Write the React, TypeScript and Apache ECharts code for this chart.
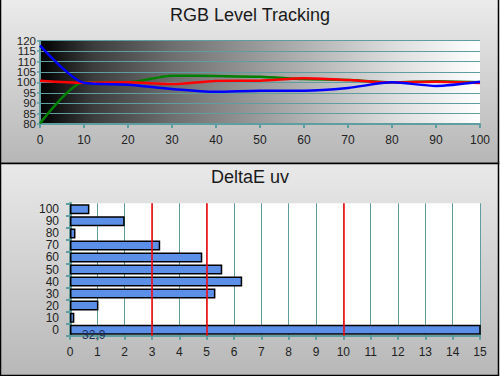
import React, { useEffect, useRef } from "react";
import * as echarts from "echarts";

const levels = [0, 10, 20, 30, 40, 50, 60, 70, 80, 90, 100];
const redValues = [100.8, 99.8, 100, 99.2, 100.7, 100.8, 102, 101.1, 100, 100.3, 99.7];
const greenValues = [80.3, 100, 100, 103.2, 103, 102.7, 101.6, 101.1, 100, 100.5, 100];
const blueValues = [117.6, 99.8, 98.9, 96.8, 95.5, 96, 96, 97.3, 100, 98.3, 100.3];
const levelTickLabels = ["80", "85", "90", "95", "100", "105", "110", "115", "120"];

const deltaCategories = ["0", "10", "20", "30", "40", "50", "60", "70", "80", "90", "100"];
const deltaValues = [32.9, 0.16, 1.04, 5.32, 6.3, 5.57, 4.84, 3.3, 0.2, 2.0, 0.71];
const thresholds = [3, 5, 10];

const TEAL = "#5f9ea0";
const FONT = "Liberation Sans";

export default function App() {
  const ref = useRef<HTMLDivElement>(null);
  useEffect(() => {
    document.body.style.margin = "0";
    const chart = echarts.init(ref.current!, null, { renderer: "svg" });
    const vGrad = (a: string, b: string) =>
      new echarts.graphic.LinearGradient(0, 0, 0, 1, [
        { offset: 0, color: a },
        { offset: 1, color: b },
      ]);
    chart.setOption({
      animation: false,
      textStyle: { fontFamily: FONT },
      graphic: [
        {
          type: "rect",
          z: -10,
          shape: { x: 0.5, y: -1, width: 498, height: 164.5 },
          style: { fill: vGrad("#ececec", "#b6b6b6"), stroke: "#000", lineWidth: 1.5 },
        },
        {
          type: "rect",
          z: -10,
          shape: { x: 0.5, y: 163.5, width: 498, height: 212 },
          style: { fill: vGrad("#e9e9e9", "#b8b8b8"), stroke: "#000", lineWidth: 1.5 },
        },
        {
          type: "rect",
          z: -5,
          shape: { x: 40, y: 40.7, width: 440, height: 83.3 },
          style: {
            fill: new echarts.graphic.LinearGradient(0, 0, 1, 0, [
              { offset: 0, color: "#000000" },
              { offset: 0.12, color: "#3c3c3c" },
              { offset: 0.3, color: "#6e6e6e" },
              { offset: 0.55, color: "#a6a6a6" },
              { offset: 0.8, color: "#dcdcdc" },
              { offset: 1, color: "#ffffff" },
            ]),
          },
        },
        {
          type: "text",
          x: 250,
          y: 15,
          style: {
            text: "RGB Level Tracking",
            fontSize: 18,
            fontFamily: FONT,
            fill: "#1a1a1a",
            align: "center",
            verticalAlign: "middle",
          },
        },
        {
          type: "text",
          x: 250,
          y: 177,
          style: {
            text: "DeltaE uv",
            fontSize: 18,
            fontFamily: FONT,
            fill: "#1a1a1a",
            align: "center",
            verticalAlign: "middle",
          },
        },
      ],
      grid: [
        {
          left: 40,
          right: 20,
          top: 40.7,
          height: 83.3,
          show: false,
        },
        {
          left: 70,
          right: 20,
          top: 203.3,
          height: 132.4,
          show: true,
          borderWidth: 0,
          backgroundColor: "#ffffff",
        },
      ],
      xAxis: [
        {
          gridIndex: 0,
          type: "value",
          min: 0,
          max: 100,
          interval: 10,
          axisLine: { show: true, lineStyle: { color: TEAL, width: 2 } },
          axisTick: { show: true, length: 4, lineStyle: { color: TEAL, width: 2 } },
          axisLabel: { color: "#222", fontSize: 12, margin: 10, fontFamily: FONT },
          splitLine: { show: false },
        },
        {
          gridIndex: 1,
          type: "value",
          min: 0,
          max: 15,
          interval: 1,
          axisLine: { show: true, lineStyle: { color: TEAL, width: 2 } },
          axisTick: { show: true, length: 4, lineStyle: { color: TEAL, width: 2 } },
          axisLabel: { color: "#222", fontSize: 12, margin: 10, fontFamily: FONT },
          splitLine: { show: true, lineStyle: { color: TEAL, width: 1 } },
        },
      ],
      yAxis: [
        {
          gridIndex: 0,
          type: "value",
          position: "left",
          min: 80,
          max: 120,
          interval: 5,
          axisLine: { show: true, lineStyle: { color: TEAL, width: 2 } },
          axisTick: { show: true, length: 3, lineStyle: { color: TEAL, width: 1.5 } },
          axisLabel: { show: false },
          splitLine: { show: true, lineStyle: { color: TEAL, width: 1 } },
        },
        {
          gridIndex: 1,
          type: "category",
          position: "left",
          data: deltaCategories,
          axisLine: { show: true, lineStyle: { color: TEAL, width: 3 } },
          axisTick: { show: true, length: 4, lineStyle: { color: TEAL, width: 2 } },
          axisLabel: {
            color: "#222",
            margin: 11,
            interval: 0,
            fontFamily: FONT,
            formatter: "{a|{value}}",
            rich: {
              a: { fontSize: 12, height: 10, lineHeight: 10, color: "#222", fontFamily: FONT },
            },
          },
          splitLine: { show: false },
        },
        {
          gridIndex: 0,
          type: "category",
          position: "left",
          offset: 0,
          data: levelTickLabels,
          boundaryGap: false,
          axisLine: { show: false },
          axisTick: { show: false },
          splitLine: { show: false },
          axisLabel: {
            color: "#222",
            margin: 4,
            interval: 0,
            fontFamily: FONT,
            formatter: "{a|{value}}",
            rich: {
              a: { fontSize: 11.5, height: 8, lineHeight: 8, color: "#222", fontFamily: FONT },
            },
          },
        },
      ],
      series: [
        {
          type: "line",
          xAxisIndex: 0,
          yAxisIndex: 0,
          data: levels.map((l, i) => [l, greenValues[i]]),
          smooth: 0.25,
          symbol: "none",
          lineStyle: { color: "#008000", width: 2.5 },
          z: 3,
        },
        {
          type: "line",
          xAxisIndex: 0,
          yAxisIndex: 0,
          data: levels.map((l, i) => [l, redValues[i]]),
          smooth: 0.25,
          symbol: "none",
          lineStyle: { color: "#ff0000", width: 2.5 },
          z: 4,
        },
        {
          type: "line",
          xAxisIndex: 0,
          yAxisIndex: 0,
          data: levels.map((l, i) => [l, blueValues[i]]),
          smooth: 0.25,
          symbol: "none",
          lineStyle: { color: "#0000ff", width: 2.5 },
          z: 5,
        },
        {
          type: "bar",
          xAxisIndex: 1,
          yAxisIndex: 1,
          barWidth: 10,
          clip: true,
          itemStyle: { color: "#5b8fe8", borderColor: "#000", borderWidth: 1.5 },
          data: deltaValues.map((v, i) =>
            i === 0
              ? {
                  value: v,
                  label: {
                    show: true,
                    position: "insideLeft",
                    distance: 12,
                    offset: [0, 5],
                    formatter: String(v).replace(".", ","),
                    color: "#1c2d5c",
                    fontSize: 12,
                    fontFamily: FONT,
                  },
                }
              : v
          ),
          markLine: {
            silent: true,
            symbol: "none",
            label: { show: false },
            lineStyle: { color: "#ff0000", width: 1.5, type: "solid" },
            data: thresholds.map((t) => ({ xAxis: t })),
          },
          z: 3,
        },
      ],
    });
    return () => chart.dispose();
  }, []);
  return (
    <div
      ref={ref}
      style={{ position: "absolute", left: 0, top: 0, width: 500, height: 376 }}
    />
  );
}
